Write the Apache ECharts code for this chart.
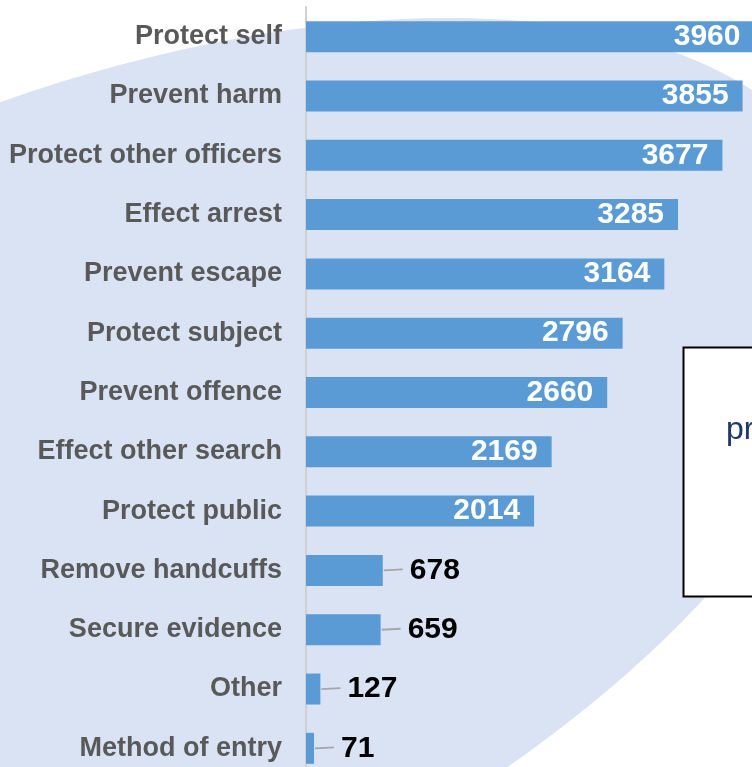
<!DOCTYPE html>
<html>
<head>
<meta charset="utf-8">
<script src="https://cdn.jsdelivr.net/npm/echarts@6/dist/echarts.min.js"></script>
<style>
html,body{margin:0;padding:0;background:#fff;}
#chart{width:752px;height:767px;}
</style>
</head>
<body>
<div id="chart"></div>
<script>
const categories = ["Protect self","Prevent harm","Protect other officers","Effect arrest","Prevent escape","Protect subject","Prevent offence","Effect other search","Protect public","Remove handcuffs","Secure evidence","Other","Method of entry"];
const values = [3960,3855,3677,3285,3164,2796,2660,2169,2014,678,659,127,71];
const insideThreshold = 1000;
const boxText = "pr";

const FONT = '"Liberation Sans", Arial, sans-serif';
const chart = echarts.init(document.getElementById('chart'), null, {renderer:'canvas'});

const barData = values.map(v => v >= insideThreshold ? {
  value: v,
  label: {position:'insideRight', distance: 14, color:'#ffffff'}
} : {
  value: v,
  label: {position:'right', distance: 27, color:'#000000'}
});
const leaderData = values.map((v,i)=>[v,i]).filter(d => d[0] < insideThreshold);

chart.setOption({
  backgroundColor:'#ffffff',
  animation:false,
  graphic:[
    {type:'ellipse', z:-10, silent:true, x:52, y:537, rotation: 23.5*Math.PI/180,
     shape:{cx:0, cy:0, rx:862, ry:424},
     style:{fill:'#dae3f3'}},
    {type:'rect', z:10, shape:{x:683.5,y:347.5,width:100,height:249}, style:{fill:'#ffffff', stroke:'#000000', lineWidth:2}},
    {type:'text', z:11, style:{x:726, y:446, text:boxText, fill:'#1f3864', font:'32px ' + FONT, textVerticalAlign:'bottom'}}
  ],
  grid:{left:306, top:7, width:453, height:771, containLabel:false, outerBoundsMode:'none'},
  xAxis:{type:'value', min:0, max:4000, show:false},
  yAxis:{type:'category', data:categories, inverse:true,
    axisTick:{show:false},
    axisLine:{show:true, lineStyle:{color:'#d0d0d0', width:2}},
    axisLabel:{margin:24, color:'#595959', fontSize:27, fontWeight:'bold', fontFamily:FONT, padding:[4,0,0,0]},
    splitLine:{show:false}},
  series:[
    {type:'bar', data:barData, barWidth:31, z:3,
     itemStyle:{color:'#5b9bd5'},
     label:{show:true, fontSize:30, fontWeight:'bold', fontFamily:FONT, padding:[3,0,0,0]}},
    {type:'custom', z:2, data:leaderData, silent:true,
     renderItem:function(params, api){
       const p = api.coord([api.value(0), api.value(1)]);
       return {type:'line', shape:{x1:p[0]+1, y1:p[1], x2:p[0]+20, y2:p[1]-1},
               style:{stroke:'#a6a6a6', lineWidth:1.8}};
     }}
  ]
});
</script>
</body>
</html>
